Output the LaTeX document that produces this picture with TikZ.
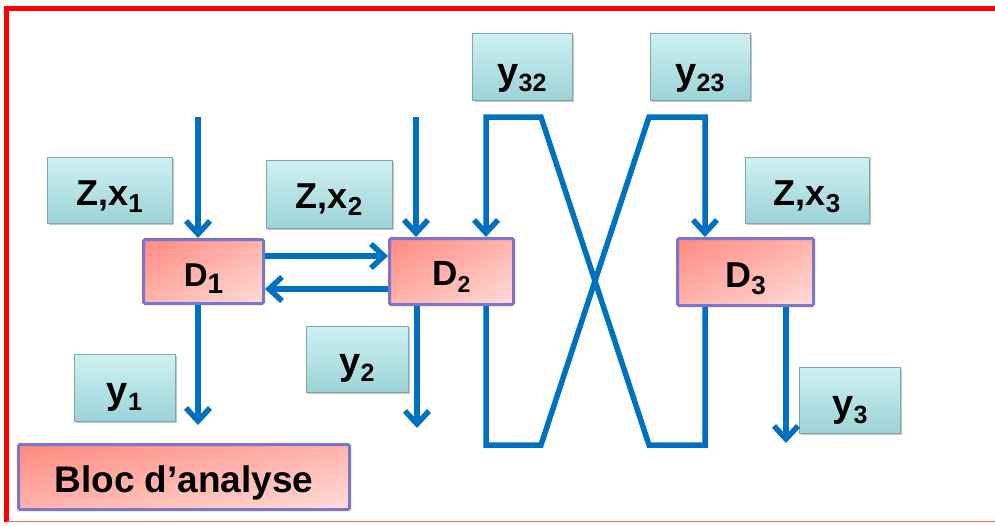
\documentclass[tikz,border=0pt]{standalone}
\usepackage{fontspec}
\setmainfont{Liberation Sans}
\usetikzlibrary{arrows.meta,shadows,shadings}
\definecolor{flowblue}{HTML}{0070C0}
\definecolor{framered}{HTML}{FF0000}
\definecolor{framelight}{HTML}{FF6060}
\definecolor{tealtop}{HTML}{CFF1F3}
\definecolor{tealbot}{HTML}{9CD3D7}
\definecolor{tealedge}{HTML}{7FA8AA}
\definecolor{pinkA}{HTML}{FF8A80}
\definecolor{pinkB}{HTML}{FFB3AC}
\definecolor{pinkC}{HTML}{FFDCD8}
\definecolor{violetedge}{HTML}{7A76D0}
\newcommand\subdn[2][26]{\raisebox{-7pt}{\fontsize{#1}{#1}\selectfont #2}}
\tikzset{
  tealbox/.style={rectangle, top color=tealtop, bottom color=tealbot,
    draw=tealedge, line width=0.8pt, inner sep=0pt,
    text height=30pt, text depth=0pt,
    drop shadow={shadow xshift=1.5pt, shadow yshift=-1.5pt, fill=black!45, opacity=0.5},
    font=\fontsize{36}{36}\selectfont\bfseries},
  dbox/.style={rectangle, upper left=pinkA, upper right=pinkB, lower left=pinkB, lower right=pinkC,
    draw=violetedge, line width=3pt, rounded corners=1.5pt, inner sep=0pt,
    text height=30pt, text depth=0pt,
    font=\fontsize{34}{34}\selectfont\bfseries},
  flow/.style={draw=flowblue, line width=5.5pt, line join=miter},
  arr/.style={flow, -{Straight Barb[length=13pt,width=24pt]}}
}
\begin{document}
\begin{tikzpicture}[x=1pt,y=-1pt]
\useasboundingbox (0,0) rectangle (995,525);
% frame
\draw[framered, line width=5pt] (6.5,522) -- (6.5,8.3) -- (995,8.3);
\draw[framelight, line width=1.5pt] (6.5,521.5) -- (995,521.5);

% label boxes
\node[tealbox, minimum width=125pt, minimum height=66pt] (zx1) at (109.5,190) {Z,x\subdn{1}};
\node[tealbox, minimum width=126pt, minimum height=68pt, text height=28pt] (zx2) at (329,194) {Z,x\subdn{2}};
\node[tealbox, minimum width=124pt, minimum height=66pt] (zx3) at (807,190) {Z,x\subdn{3}};
\node[tealbox, minimum width=100pt, minimum height=67pt, text height=36pt, font=\fontsize{38}{38}\selectfont\bfseries] (y32) at (522,66.5) {y\subdn[25]{32}};
\node[tealbox, minimum width=100pt, minimum height=67pt, text height=36pt, font=\fontsize{38}{38}\selectfont\bfseries] (y23) at (700,66.5) {y\subdn[25]{23}};
\node[tealbox, minimum width=101pt, minimum height=67pt, text height=31pt, font=\fontsize{38}{38}\selectfont\bfseries] (y1) at (124.5,387.5) {y\subdn[25]{1}};
\node[tealbox, minimum width=102pt, minimum height=66pt, text height=30pt, font=\fontsize{38}{38}\selectfont\bfseries] (y2) at (357,359) {y\subdn[25]{2}};
\node[tealbox, minimum width=101pt, minimum height=66pt, text height=32pt, font=\fontsize{38}{38}\selectfont\bfseries] (y3) at (850,400) {y\subdn[25]{3}};

% decision blocks
\node[dbox, minimum width=120pt, minimum height=64pt, font=\fontsize{33}{33}\selectfont\bfseries] (d1) at (203.5,271.5) {D\subdn[28]{1}};
\node[dbox, minimum width=124pt, minimum height=66pt, text height=27pt, font=\fontsize{35}{35}\selectfont\bfseries] (d2) at (451.5,271.5) {D\subdn[23]{2}};
\node[dbox, minimum width=136pt, minimum height=67pt, font=\fontsize{36}{36}\selectfont\bfseries] (d3) at (745.5,272) {D\subdn[26]{3}};
\node[dbox, minimum width=331pt, minimum height=65pt, font=\fontsize{37}{37}\selectfont\bfseries] (bloc) at (184,477) {Bloc d’analyse};

% free ends
\coordinate (in1) at (198,117);
\coordinate (in2) at (416,117);
\coordinate (out1) at (198,425);
\coordinate (out2) at (417,428);
\coordinate (out3) at (786,443);
\coordinate (a1) at (486,445);
\coordinate (a2) at (541,445);
\coordinate (a3) at (649,117);
\coordinate (a4) at (705,117);
\coordinate (b1) at (705,445);
\coordinate (b2) at (649,445);
\coordinate (b3) at (541,117);
\coordinate (b4) at (486,117);

% connectors
\draw[arr] (in1) -- (in1 |- d1.north);
\draw[arr] (in2) -- (in2 |- d2.north);
\draw[arr] ([yshift=15.5pt]d1.east) -- ([yshift=15.5pt]d2.west);
\draw[arr] ([yshift=-17.5pt]d2.west) -- ([yshift=-17.5pt]d1.east);
\draw[arr] (out1 |- d1.south) -- (out1);
\draw[arr] (out2 |- d2.south) -- (out2);
\draw[arr] (out3 |- d3.south) -- (out3);
\draw[arr] (a1 |- d2.south) -- (a1) -- (a2) -- (a3) -- (a4) -- (a4 |- d3.north);
\draw[arr] (b1 |- d3.south) -- (b1) -- (b2) -- (b3) -- (b4) -- (b4 |- d2.north);
\end{tikzpicture}
\end{document}
